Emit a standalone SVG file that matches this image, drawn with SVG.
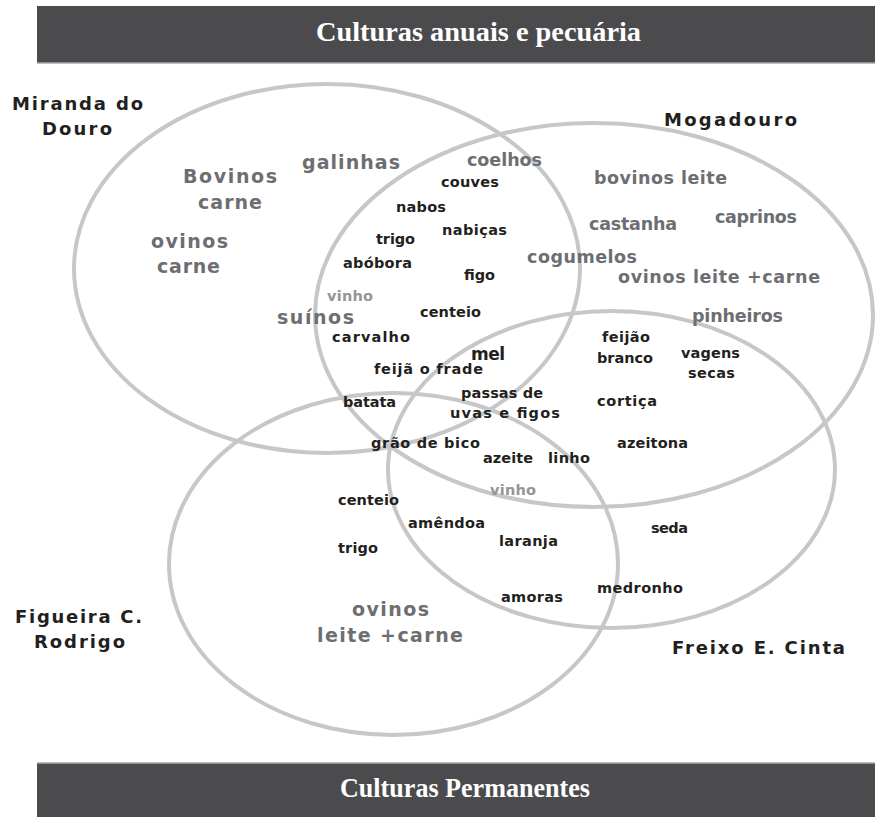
<svg xmlns="http://www.w3.org/2000/svg" width="875" height="817" viewBox="0 0 875 817">
<style>
.bar{fill:#4b4b4d}
.barline{stroke:#a7a9ac;stroke-width:1.5}
.title{font-family:"Liberation Serif","Times New Roman",serif;font-weight:bold;font-size:27px;fill:#ffffff}
.ring{fill:none;stroke:#c6c7c9;stroke-width:4}
text{font-family:"DejaVu Sans",Verdana,sans-serif;font-weight:bold}
.b{font-size:14.5px;fill:#231f20}
.m{font-size:17px;fill:#231f20}
.p{font-size:18px;fill:#231f20}
.g1{font-size:19px;fill:#6d6e71}
.g2{font-size:17.5px;fill:#6d6e71}
.v{font-size:14.5px;fill:#939598}
</style>
<rect width="875" height="817" fill="#ffffff"/>
<g id="header">
<rect class="bar" x="37" y="6" width="838" height="57"/>
<line class="barline" x1="37" y1="63" x2="875" y2="63"/>
<text class="title" x="316" y="41" textLength="325" lengthAdjust="spacingAndGlyphs">Culturas anuais e pecuária</text>
</g>
<g id="footer">
<rect class="bar" x="37" y="763" width="838" height="54"/>
<line class="barline" x1="37" y1="763" x2="875" y2="763"/>
<text class="title" x="340" y="797" textLength="250" lengthAdjust="spacingAndGlyphs">Culturas Permanentes</text>
</g>
<g id="sets">
<ellipse id="set-miranda" class="ring" cx="327" cy="268.5" rx="253" ry="184.5"/>
<ellipse id="set-mogadouro" class="ring" cx="594" cy="315" rx="279" ry="192"/>
<ellipse id="set-freixo" class="ring" cx="611.5" cy="469.5" rx="223.5" ry="158.5"/>
<ellipse id="set-figueira" class="ring" cx="393.5" cy="564" rx="224.5" ry="171"/>
</g>
<g id="set-labels">
<text class="p" x="12" y="110" textLength="131">Miranda do</text>
<text class="p" x="42" y="135" textLength="70">Douro</text>
<text class="p" x="664" y="126" textLength="133">Mogadouro</text>
<text class="p" x="672" y="654" textLength="173">Freixo E. Cinta</text>
<text class="p" x="15" y="623" textLength="127">Figueira C.</text>
<text class="p" x="34" y="648" textLength="91">Rodrigo</text>
</g>
<g id="livestock">
<text class="g1" x="183" y="183" textLength="94">Bovinos</text>
<text class="g1" x="198" y="209" textLength="64">carne</text>
<text class="g1" x="151" y="248" textLength="77">ovinos</text>
<text class="g1" x="157" y="273" textLength="63">carne</text>
<text class="g1" x="302" y="169" textLength="98">galinhas</text>
<text class="g1" x="277" y="324" textLength="77">suínos</text>
<text class="g1" x="352" y="616" textLength="77">ovinos</text>
<text class="g1" x="317" y="642" textLength="146">leite +carne</text>
<text class="g2" x="467" y="166" textLength="75">coelhos</text>
<text class="g2" x="527" y="263" textLength="110">cogumelos</text>
<text class="g2" x="594" y="184" textLength="133">bovinos leite</text>
<text class="g2" x="589" y="230" textLength="88">castanha</text>
<text class="g2" x="715" y="223" textLength="82">caprinos</text>
<text class="g2" x="618" y="283" textLength="202">ovinos leite +carne</text>
<text class="g2" x="692" y="322" textLength="91">pinheiros</text>
<text class="v" x="327" y="301" textLength="46">vinho</text>
<text class="v" x="490" y="495" textLength="46">vinho</text>
</g>
<g id="crops">
<text class="b" x="441" y="187" textLength="58">couves</text>
<text class="b" x="396" y="212" textLength="50">nabos</text>
<text class="b" x="442" y="235" textLength="65">nabiças</text>
<text class="b" x="376" y="244" textLength="39">trigo</text>
<text class="b" x="343" y="268" textLength="69">abóbora</text>
<text class="b" x="464" y="280" textLength="31">figo</text>
<text class="b" x="420" y="317" textLength="61">centeio</text>
<text class="b" x="332" y="342" textLength="78">carvalho</text>
<text class="m" x="471" y="360" textLength="34">mel</text>
<text class="b" x="374" y="374" textLength="109">feijã o frade</text>
<text class="b" x="343" y="407" textLength="53">batata</text>
<text class="b" x="461" y="398" textLength="82">passas de</text>
<text class="b" x="450" y="418" textLength="110">uvas e  figos</text>
<text class="b" x="371" y="448" textLength="109">grão de bico</text>
<text class="b" x="483" y="463" textLength="50">azeite</text>
<text class="b" x="548" y="463" textLength="42">linho</text>
<text class="b" x="602" y="342" textLength="48">feijão</text>
<text class="b" x="597" y="363" textLength="56">branco</text>
<text class="b" x="681" y="358" textLength="59">vagens</text>
<text class="b" x="688" y="378" textLength="47">secas</text>
<text class="b" x="597" y="406" textLength="60">cortiça</text>
<text class="b" x="617" y="448" textLength="71">azeitona</text>
<text class="b" x="651" y="533" textLength="37">seda</text>
<text class="b" x="597" y="593" textLength="86">medronho</text>
<text class="b" x="501" y="602" textLength="62">amoras</text>
<text class="b" x="499" y="546" textLength="59">laranja</text>
<text class="b" x="338" y="505" textLength="61">centeio</text>
<text class="b" x="408" y="528" textLength="77">amêndoa</text>
<text class="b" x="338" y="553" textLength="40">trigo</text>
</g>
</svg>
